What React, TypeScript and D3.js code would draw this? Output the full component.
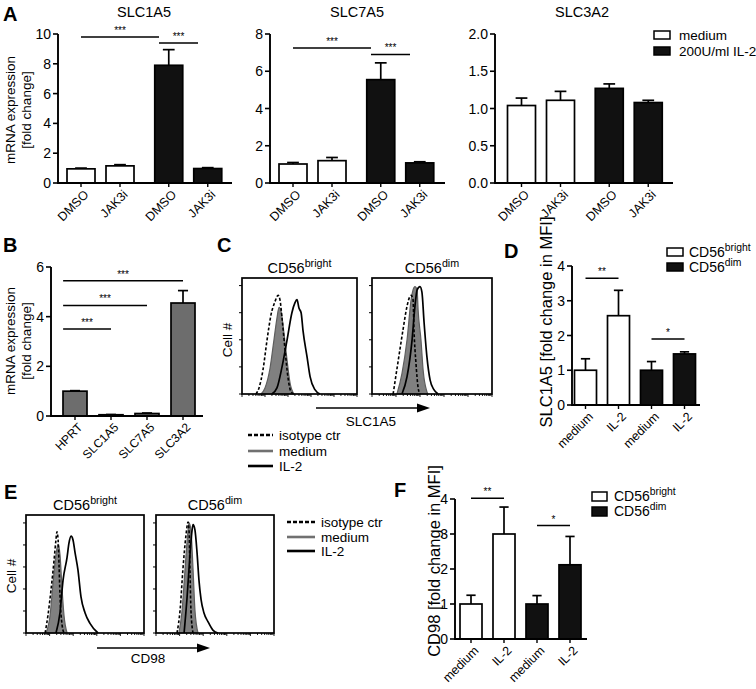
import React from "react";
import * as d3 from "d3";

const FONT = "'Liberation Sans', Arial, Helvetica, sans-serif";

// ---------------- Panel A ----------------
const aCategories = ["DMSO", "JAK3i", "DMSO", "JAK3i"];
const aTreatment = ["medium", "medium", "IL-2", "IL-2"];
const aLegend = ["medium", "200U/ml IL-2"];
const aTicks10 = [0, 2, 4, 6, 8, 10];
const aTicks8 = [0, 2, 4, 6, 8];
const aTicks2 = [0, 0.5, 1.0, 1.5, 2.0];
const slc1a5Mean = [0.95, 1.15, 7.9, 0.97];
const slc1a5Sem = [0.05, 0.08, 1.05, 0.06];
const slc7a5Mean = [1.02, 1.2, 5.55, 1.08];
const slc7a5Sem = [0.08, 0.17, 0.9, 0.06];
const slc3a2Mean = [1.04, 1.11, 1.27, 1.08];
const slc3a2Sem = [0.1, 0.12, 0.06, 0.03];
const slc1a5Sig = [
  { from: 0, to: 2, y: 9.8, label: "***" },
  { from: 2, to: 3, y: 9.4, label: "***" },
];
const slc7a5Sig = [
  { from: 0, to: 2, y: 7.25, label: "***" },
  { from: 2, to: 3, y: 6.9, label: "***" },
];

// ---------------- Panel B ----------------
const bCategories = ["HPRT", "SLC1A5", "SLC7A5", "SLC3A2"];
const bTicks = [0, 2, 4, 6];
const bMean = [1.0, 0.05, 0.1, 4.55];
const bSem = [0.02, 0.01, 0.02, 0.5];
const bSig = [
  { from: -0.33, to: 3, y: 5.45, label: "***" },
  { from: -0.33, to: 2, y: 4.45, label: "***" },
  { from: -0.33, to: 1, y: 3.5, label: "***" },
];

// ---------------- Panels D / F ----------------
const dfCategories = ["medium", "IL-2", "medium", "IL-2"];
const dfSubset = ["bright", "bright", "dim", "dim"];
const dfTicks = [0, 1, 2, 3, 4];
const dMean = [1.0, 2.57, 1.0, 1.47];
const dSem = [0.33, 0.73, 0.25, 0.06];
const dSig = [
  { from: 0, to: 1, y: 3.65, label: "**" },
  { from: 2, to: 3, y: 1.9, label: "*" },
];
const fMean = [1.0, 3.0, 1.0, 2.12];
const fSem = [0.25, 0.77, 0.24, 0.81];
const fSig = [
  { from: 0, to: 1, y: 4.02, label: "**" },
  { from: 2, to: 3, y: 3.24, label: "*" },
];

// ---------------- Histograms (x in log decades, y in cell counts) ----------------
const histLegend = ["isotype ctr", "medium", "IL-2"];
const cBrightIso = [[0.61,0],[0.74,5.6],[0.91,22],[1.09,50],[1.26,73],[1.43,85],[1.57,91],[1.65,87],[1.74,70],[1.87,41],[2.0,15],[2.13,2],[2.26,0]];
const cBrightMed = [[0.83,0],[1.0,5.6],[1.22,24],[1.39,50],[1.52,70],[1.61,80],[1.7,76],[1.83,55],[1.96,31],[2.09,10],[2.26,0]];
const cBrightIL2 = [[1.3,0],[1.52,5.6],[1.74,25],[1.96,50],[2.17,75],[2.3,84],[2.39,87],[2.48,79],[2.57,75],[2.65,59],[2.83,34],[2.96,16],[3.17,4],[3.39,0]];
const cDimIso = [[0.88,0],[1.08,29],[1.29,59],[1.46,81],[1.58,90],[1.63,91],[1.71,87],[1.75,59],[1.83,29],[1.92,6],[2.0,0]];
const cDimMed = [[1.04,0],[1.25,19],[1.46,50],[1.63,87],[1.71,96],[1.79,99],[1.88,96],[1.92,78],[2.04,50],[2.13,22],[2.29,2],[2.33,0]];
const cDimIL2 = [[1.25,0],[1.46,16],[1.67,50],[1.79,81],[1.88,96],[2.0,99],[2.08,94],[2.17,66],[2.29,34],[2.42,13],[2.58,4],[2.75,0]];
const eBrightIso = [[0.81,0],[0.93,20],[1.06,49],[1.19,83],[1.27,106],[1.31,115],[1.36,106],[1.4,77],[1.44,43],[1.53,9],[1.61,0]];
const eBrightMed = [[0.85,0],[1.02,20],[1.14,55],[1.27,89],[1.36,101],[1.44,89],[1.53,49],[1.61,20],[1.74,0]];
const eBrightIL2 = [[1.27,0],[1.44,23],[1.57,60],[1.74,86],[1.82,102],[1.91,110],[1.99,106],[2.08,91],[2.2,72],[2.33,41],[2.5,23],[2.71,11],[3.05,0]];
const eDimIso = [[0.89,0],[1.02,26],[1.14,72],[1.27,111],[1.36,126],[1.4,117],[1.44,72],[1.48,26],[1.57,0]];
const eDimMed = [[0.97,0],[1.1,24],[1.23,72],[1.36,117],[1.4,125],[1.48,117],[1.57,72],[1.65,26],[1.78,0]];
const eDimIL2 = [[1.19,0],[1.31,38],[1.44,89],[1.53,117],[1.57,123],[1.65,117],[1.74,91],[1.82,60],[1.91,38],[2.03,23],[2.2,13],[2.42,3],[2.63,0]];

const BLACK = "#111";
const GRAY_BAR = "#6d6d6d";
const fillFor = (t: string) => (t === "medium" || t === "bright" ? "#fff" : BLACK);

type Sig = { from: number; to: number; y: number; label: string };

function BarPanel(p: {
  ox: number; xEnd: number; y0: number; yTop: number; max: number; ticks: number[];
  fmt?: (v: number) => string; c0: number; step: number; slots: number[]; barW: number;
  means: number[]; sems: number[]; fills: string[]; labels: string[]; sig?: Sig[];
  labelSize?: number;
}) {
  const y = d3.scaleLinear().domain([0, p.max]).range([p.y0, p.yTop]);
  const x = d3.scaleLinear().domain([0, 1]).range([p.c0, p.c0 + p.step]);
  const fmt = p.fmt || d3.format("d");
  const capW = p.barW * 0.42;
  const sw = 1.7;
  return (
    <g>
      {p.means.map((m, i) => {
        const cx = x(p.slots[i]);
        const top = y(m + p.sems[i]);
        return (
          <g key={i}>
            <line x1={cx} x2={cx} y1={y(m)} y2={top} stroke="#000" strokeWidth={sw} />
            <line x1={cx - capW / 2} x2={cx + capW / 2} y1={top} y2={top} stroke="#000" strokeWidth={sw} />
            <rect x={cx - p.barW / 2} y={y(m)} width={p.barW} height={p.y0 - y(m)} fill={p.fills[i]} stroke="#000" strokeWidth={sw} />
            <line x1={cx} x2={cx} y1={p.y0} y2={p.y0 + 4} stroke="#000" strokeWidth={1.4} />
            <text
              transform={`translate(${cx + 2},${p.y0 + 6}) rotate(-45)`}
              textAnchor="end" dy="0.72em" fontSize={p.labelSize || 12.5}
            >{p.labels[i]}</text>
          </g>
        );
      })}
      <line x1={p.ox} x2={p.xEnd} y1={p.y0} y2={p.y0} stroke="#000" strokeWidth={1.9} />
      <line x1={p.ox} x2={p.ox} y1={p.y0 + 0.9} y2={p.yTop} stroke="#000" strokeWidth={1.9} />
      {p.ticks.map((t) => (
        <g key={t}>
          <line x1={p.ox - 5} x2={p.ox} y1={y(t)} y2={y(t)} stroke="#000" strokeWidth={1.6} />
          <text x={p.ox - 7} y={y(t)} dy="0.36em" textAnchor="end" fontSize={14}>{fmt(t)}</text>
        </g>
      ))}
      {(p.sig || []).map((s, i) => {
        const x1 = x(s.from), x2 = x(s.to), yy = y(s.y);
        return (
          <g key={i}>
            <line x1={x1} x2={x2} y1={yy} y2={yy} stroke="#000" strokeWidth={1.5} />
            <text x={(x1 + x2) / 2} y={yy - 3} textAnchor="middle" fontSize={10}>{s.label}</text>
          </g>
        );
      })}
    </g>
  );
}

function SupText(p: { x: number; y: number; main: string; sup: string; size?: number; anchor?: string }) {
  const size = p.size || 14;
  return (
    <text x={p.x} y={p.y} fontSize={size} textAnchor={p.anchor || "start"}>
      {p.main}
      <tspan dy={-size * 0.42} fontSize={size * 0.74}>{p.sup}</tspan>
    </text>
  );
}

function HistBox(p: {
  x0: number; yTop: number; w: number; h: number; ymax: number; tickStep: number;
  iso: number[][]; med: number[][]; il2: number[][]; title: string; sup: string;
}) {
  const xs = d3.scaleLinear().domain([0, 5]).range([p.x0, p.x0 + p.w]);
  const ys = d3.scaleLinear().domain([0, p.ymax]).range([p.yTop + p.h, p.yTop]);
  const line = d3.line<number[]>().x((d) => xs(d[0])).y((d) => ys(d[1])).curve(d3.curveMonotoneX);
  const area = d3.area<number[]>().x((d) => xs(d[0])).y0(ys(0)).y1((d) => ys(d[1])).curve(d3.curveMonotoneX);
  const yt = d3.range(0, p.ymax, p.tickStep);
  const xt: { v: number; major: boolean }[] = [];
  for (let dec = 0; dec < 5; dec++) for (let k = 1; k <= 9; k++) xt.push({ v: dec + Math.log10(k), major: k === 1 });
  xt.push({ v: 5, major: true });
  const bottom = p.yTop + p.h;
  return (
    <g>
      {yt.map((t) => (
        <line key={t} x1={p.x0 - 3} x2={p.x0} y1={ys(t)} y2={ys(t)} stroke="#000" strokeWidth={1} />
      ))}
      {xt.map((t, i) => (
        <line key={i} x1={xs(t.v)} x2={xs(t.v)} y1={bottom} y2={bottom + (t.major ? 3 : 2)} stroke="#000" strokeWidth={0.9} />
      ))}
      <path d={area(p.med) || ""} fill="#808080" stroke="#5e5e5e" strokeWidth={1.2} />
      <path d={line(p.iso) || ""} fill="none" stroke="#000" strokeWidth={1.6} strokeDasharray="3,2" />
      <path d={line(p.il2) || ""} fill="none" stroke="#000" strokeWidth={1.7} />
      <rect x={p.x0} y={p.yTop} width={p.w} height={p.h} fill="none" stroke="#000" strokeWidth={1.7} />
      <SupText x={p.x0 + p.w / 2} y={p.yTop - 5} main={p.title} sup={p.sup} size={14.5} anchor="middle" />
    </g>
  );
}

function HistLegend(p: { x: number; y: number[]; len: number }) {
  const styles = [
    { stroke: "#000", dash: "4,2" },
    { stroke: "#707070", dash: undefined },
    { stroke: "#000", dash: undefined },
  ];
  return (
    <g>
      {histLegend.map((l, i) => (
        <g key={l}>
          <line x1={p.x} x2={p.x + p.len} y1={p.y[i]} y2={p.y[i]} stroke={styles[i].stroke} strokeWidth={2.6} strokeDasharray={styles[i].dash} />
          <text x={p.x + p.len + 6} y={p.y[i]} dy="0.36em" fontSize={13.5}>{l}</text>
        </g>
      ))}
    </g>
  );
}

function Arrow(p: { x1: number; x2: number; y: number }) {
  return (
    <g>
      <line x1={p.x1} x2={p.x2 - 8} y1={p.y} y2={p.y} stroke="#000" strokeWidth={1.6} />
      <path d={`M${p.x2},${p.y} L${p.x2 - 13},${p.y - 4.5} L${p.x2 - 13},${p.y + 4.5} Z`} fill="#000" />
    </g>
  );
}

export default function App() {
  const aFills = aTreatment.map(fillFor);
  const dfFills = dfSubset.map(fillFor);
  const bFills = bCategories.map(() => GRAY_BAR);
  const aSlots = [0, 1, 2.25, 3.25];
  const slots4 = [0, 1, 2, 3];
  return (
    <svg width={756} height={689} style={{ position: "absolute", left: 0, top: 0, background: "#fff" }}
      fontFamily={FONT} fill="#000">
      <rect width={756} height={689} fill="#fff" />
      {/* Panel letters */}
      <g fontSize={20} fontWeight="bold">
        <text x={3} y={21}>A</text>
        <text x={3} y={252}>B</text>
        <text x={217} y={252}>C</text>
        <text x={504} y={258}>D</text>
        <text x={4} y={499}>E</text>
        <text x={394} y={497}>F</text>
      </g>

      {/* Panel A */}
      <g fontSize={13.5}>
        <text transform="translate(15,110) rotate(-90)" textAnchor="middle">mRNA expression</text>
        <text transform="translate(31,110) rotate(-90)" textAnchor="middle">[fold change]</text>
      </g>
      <text x={144} y={17} textAnchor="middle" fontSize={14.5}>SLC1A5</text>
      <text x={357} y={17} textAnchor="middle" fontSize={14.5}>SLC7A5</text>
      <text x={582} y={17} textAnchor="middle" fontSize={14.5}>SLC3A2</text>
      <BarPanel ox={58} xEnd={232} y0={183} yTop={34} max={10} ticks={aTicks10} c0={81} step={39}
        slots={aSlots} barW={28} means={slc1a5Mean} sems={slc1a5Sem} fills={aFills} labels={aCategories} sig={slc1a5Sig} />
      <BarPanel ox={270} xEnd={445} y0={183} yTop={34} max={8} ticks={aTicks8} c0={293} step={39}
        slots={aSlots} barW={28} means={slc7a5Mean} sems={slc7a5Sem} fills={aFills} labels={aCategories} sig={slc7a5Sig} />
      <BarPanel ox={495} xEnd={673} y0={183} yTop={34} max={2} ticks={aTicks2} fmt={d3.format(".1f")} c0={521.5} step={39}
        slots={aSlots} barW={28} means={slc3a2Mean} sems={slc3a2Sem} fills={aFills} labels={aCategories} />
      <g fontSize={13.5}>
        <rect x={654} y={31} width={16} height={8} fill="#fff" stroke="#000" strokeWidth={1.5} />
        <rect x={654} y={47} width={16} height={8} fill={BLACK} stroke="#000" strokeWidth={1.5} />
        <text x={679} y={39.5}>{aLegend[0]}</text>
        <text x={679} y={55.5}>{aLegend[1]}</text>
      </g>

      {/* Panel B */}
      <g fontSize={13.5}>
        <text transform="translate(15,341) rotate(-90)" textAnchor="middle">mRNA expression</text>
        <text transform="translate(31,341) rotate(-90)" textAnchor="middle">[fold change]</text>
      </g>
      <BarPanel ox={51} xEnd={203} y0={416} yTop={267} max={6} ticks={bTicks} c0={75} step={36}
        slots={slots4} barW={24} means={bMean} sems={bSem} fills={bFills} labels={bCategories} sig={bSig} labelSize={12} />

      {/* Panel C */}
      <HistBox x0={242} yTop={278} w={115} h={116} ymax={107} tickStep={25}
        iso={cBrightIso} med={cBrightMed} il2={cBrightIL2} title="CD56" sup="bright" />
      <HistBox x0={372} yTop={278} w={120} h={116} ymax={107} tickStep={25}
        iso={cDimIso} med={cDimMed} il2={cDimIL2} title="CD56" sup="dim" />
      <text transform="translate(232,340) rotate(-90)" textAnchor="middle" fontSize={13.5}>Cell #</text>
      <Arrow x1={316} x2={430} y={408} />
      <text x={371} y={426} textAnchor="middle" fontSize={13.5}>SLC1A5</text>
      <HistLegend x={248} y={[435, 451, 466]} len={25} />

      {/* Panel D */}
      <text transform="translate(552,322) rotate(-90)" textAnchor="middle" fontSize={16.5}>SLC1A5 [fold change in MFI]</text>
      <BarPanel ox={572} xEnd={700} y0={405} yTop={266} max={4} ticks={dfTicks} c0={585.5} step={33}
        slots={slots4} barW={22} means={dMean} sems={dSem} fills={dfFills} labels={dfCategories} sig={dSig} />
      <rect x={667} y={248} width={16} height={8} fill="#fff" stroke="#000" strokeWidth={1.5} />
      <rect x={667} y={263} width={16} height={8} fill={BLACK} stroke="#000" strokeWidth={1.5} />
      <SupText x={689} y={257} main="CD56" sup="bright" size={14} />
      <SupText x={689} y={272} main="CD56" sup="dim" size={14} />

      {/* Panel E */}
      <HistBox x0={26} yTop={515} w={118} h={118} ymax={134} tickStep={25}
        iso={eBrightIso} med={eBrightMed} il2={eBrightIL2} title="CD56" sup="bright" />
      <HistBox x0={156} yTop={515} w={118} h={118} ymax={134} tickStep={25}
        iso={eDimIso} med={eDimMed} il2={eDimIL2} title="CD56" sup="dim" />
      <text transform="translate(16,576) rotate(-90)" textAnchor="middle" fontSize={13.5}>Cell #</text>
      <Arrow x1={97} x2={210} y={648} />
      <text x={148} y={663} textAnchor="middle" fontSize={13.5}>CD98</text>
      <HistLegend x={287} y={[522, 537, 551]} len={28} />

      {/* Panel F */}
      <text transform="translate(440,561) rotate(-90)" textAnchor="middle" fontSize={16.5}>CD98 [fold change in MFI]</text>
      <BarPanel ox={455} xEnd={587} y0={639} yTop={499} max={4} ticks={dfTicks} c0={471} step={33}
        slots={slots4} barW={22} means={fMean} sems={fSem} fills={dfFills} labels={dfCategories} sig={fSig} />
      <rect x={592} y={492} width={15} height={9} fill="#fff" stroke="#000" strokeWidth={1.5} />
      <rect x={592} y={507} width={15} height={9} fill={BLACK} stroke="#000" strokeWidth={1.5} />
      <SupText x={614} y={501} main="CD56" sup="bright" size={14} />
      <SupText x={614} y={516} main="CD56" sup="dim" size={14} />
    </svg>
  );
}
